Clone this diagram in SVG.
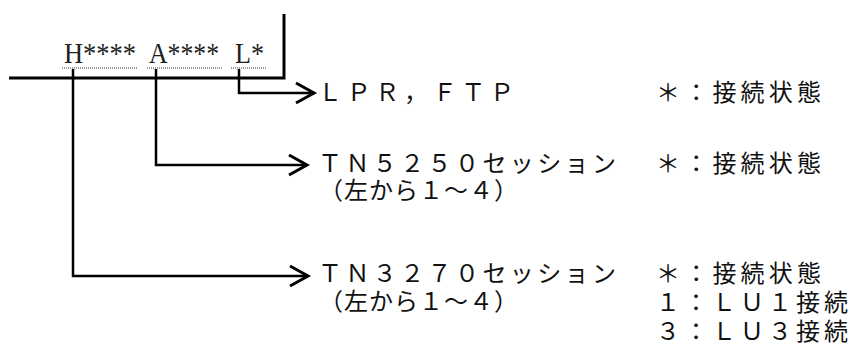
<svg xmlns="http://www.w3.org/2000/svg" width="854" height="356" viewBox="0 0 854 356">
<style>
.ln{fill:none;stroke:#000;stroke-width:2.5}
.main{fill:none;stroke:#000;stroke-width:3}
.dot{fill:none;stroke:#333;stroke-width:1.2;stroke-dasharray:1 1}
.lbl{font-family:"Liberation Serif",serif;font-size:30px;fill:#222}
.t{font-family:"Noto Sans CJK JP",sans-serif;font-size:24px;fill:#111}
</style>
<defs>
<marker id="chev" markerUnits="userSpaceOnUse" markerWidth="24" markerHeight="26" refX="19" refY="12" orient="auto" viewBox="0 0 24 26">
<path d="M1,2 L19,12 L1,22" fill="none" stroke="#000" stroke-width="3"/>
</marker>
</defs>
<g id="field">
<text class="lbl" x="64" y="63" textLength="72" lengthAdjust="spacingAndGlyphs">H****</text>
<text class="lbl" x="149" y="63" textLength="70" lengthAdjust="spacingAndGlyphs">A****</text>
<text class="lbl" x="235" y="63" textLength="29" lengthAdjust="spacingAndGlyphs">L*</text>
<line class="dot" x1="62" y1="68" x2="137" y2="68"/>
<line class="dot" x1="147" y1="68" x2="222" y2="68"/>
<line class="dot" x1="231" y1="68" x2="267" y2="68"/>
</g>
<g id="connectors">
<polyline class="main" points="9,78 284,78 284,14"/>
<polyline class="ln" points="239,69 239,93 314,93" marker-end="url(#chev)"/>
<polyline class="ln" points="156,69 156,165 307,165" marker-end="url(#chev)"/>
<polyline class="ln" points="73,69 73,276 308,276" marker-end="url(#chev)"/>
</g>
<g id="lpr">
<text class="t" x="318" y="101" textLength="196" lengthAdjust="spacing">ＬＰＲ，ＦＴＰ</text>
<text class="t" x="656" y="101" textLength="165" lengthAdjust="spacing">＊：接続状態</text>
</g>
<g id="tn5250">
<text class="t" x="318" y="172" textLength="298" lengthAdjust="spacing">ＴＮ５２５０セッション</text>
<text class="t" x="319" y="199" textLength="199" lengthAdjust="spacing">（左から１～４）</text>
<text class="t" x="656" y="172" textLength="165" lengthAdjust="spacing">＊：接続状態</text>
</g>
<g id="tn3270">
<text class="t" x="318" y="282" textLength="298" lengthAdjust="spacing">ＴＮ３２７０セッション</text>
<text class="t" x="319" y="310" textLength="199" lengthAdjust="spacing">（左から１～４）</text>
<text class="t" x="656" y="282" textLength="165" lengthAdjust="spacing">＊：接続状態</text>
<text class="t" x="656" y="311" textLength="192" lengthAdjust="spacing">１：ＬＵ１接続</text>
<text class="t" x="656" y="340" textLength="192" lengthAdjust="spacing">３：ＬＵ３接続</text>
</g>
</svg>
